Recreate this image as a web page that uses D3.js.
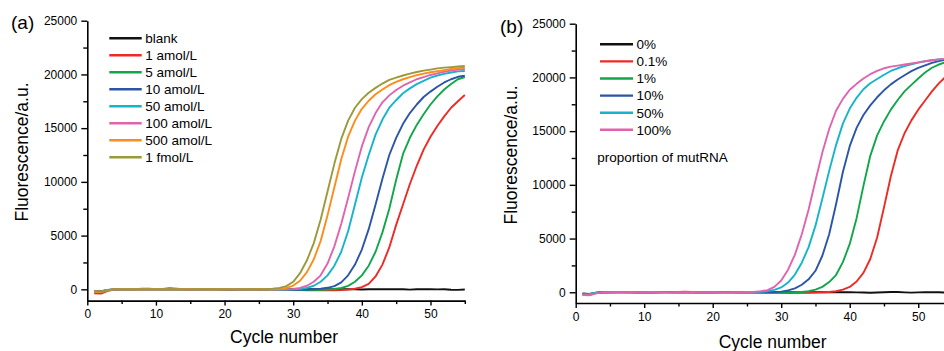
<!DOCTYPE html>
<html>
<head>
<meta charset="utf-8">
<script src="https://cdn.jsdelivr.net/npm/d3@7"></script>
<style>
  body { margin: 0; background: #fff; }
  svg { display: block; font-family: "Liberation Sans", Arial, sans-serif; }
</style>
</head>
<body>
<script>
// cycles 1..55
const cycles = [1,2,3,4,5,6,7,8,9,10,11,12,13,14,15,16,17,18,19,20,21,22,23,24,25,26,27,28,29,30,
  31,32,33,34,35,36,37,38,39,40,41,42,43,44,45,46,47,48,49,50,51,52,53,54,55];

// panel (a): target concentration
const namesA = ["blank", "1 amol/L", "5 amol/L", "10 amol/L", "50 amol/L", "100 amol/L", "500 amol/L", "1 fmol/L"];
const blankA = [-150,-180,-60,-10,0,10,0,20,10,0,-10,10,0,20,0,-10,10,0,10,0,-10,0,10,0,20,0,10,0,10,0,
  -10,0,10,0,20,10,0,10,0,-20,0,10,20,0,10,0,-30,0,10,0,-10,0,-40,-50,-20];
const amol1A = [-380,-400,-150,-30,0,20,10,50,60,20,40,110,60,10,0,20,-10,0,10,-30,-60,0,10,0,-20,0,10,-20,-30,-40,
  -60,-80,-90,-100,-90,-80,-60,-20,50,200,500,1200,2300,3900,6000,7900,9800,11500,13000,14200,15200,16100,16900,17500,18080];
const amol5A = [-250,-280,-100,-20,10,0,20,10,30,0,20,10,0,-10,10,0,20,0,-10,10,0,-20,0,10,0,-10,0,-10,-20,-40,
  -60,-70,-70,-50,-20,30,120,320,700,1300,2200,3500,5300,7500,10200,12600,14100,15300,16300,17200,17950,18600,19100,19550,19760];
const amol10A = [-200,-250,-80,0,10,20,0,10,0,20,10,0,-10,0,10,20,0,10,0,-10,0,10,0,20,0,-10,0,-10,-30,-40,
  -40,-20,10,50,140,300,650,1300,2300,3700,5600,7900,10300,12500,14100,15400,16400,17200,17900,18400,18850,19250,19550,19780,19880];
const amol50A = [-180,-220,-60,10,20,0,10,0,20,10,0,20,10,0,-10,0,10,0,20,0,10,0,-10,0,10,0,-10,-20,-30,-10,
  30,130,330,700,1300,2200,3500,5400,7900,10400,12500,14400,15800,16900,17600,18250,18700,19100,19400,19700,19900,20050,20180,20280,20320];
const amol100A = [-200,-230,-70,0,10,30,0,10,0,-10,0,20,0,10,0,-10,0,10,0,10,-10,0,10,0,-10,0,10,0,-10,30,
  130,330,700,1300,2400,4000,6100,8500,11000,13300,15100,16400,17400,18050,18550,18950,19250,19550,19750,19950,20100,20250,20350,20450,20500];
const amol500A = [-220,-260,-90,-10,0,10,20,0,10,30,0,-10,0,10,0,20,0,-20,0,10,0,-10,0,10,0,10,0,30,120,350,
  800,1600,2800,4500,6900,9500,12100,14200,15700,16800,17550,18150,18600,19000,19300,19550,19750,19930,20080,20200,20300,20400,20500,20590,20630];
const fmol1A = [-160,-200,-70,0,10,0,20,10,0,10,20,0,10,0,-10,0,10,20,0,10,0,-10,0,10,20,10,60,130,300,700,
  1500,2700,4300,6500,9100,11700,14000,15700,16900,17700,18300,18750,19150,19500,19700,19900,20080,20230,20350,20450,20560,20630,20680,20740,20780];
const colorsA = ["#111111", "#ee2a24", "#12a64b", "#2b55a6", "#16b4cc", "#e064ad", "#fb8c1e", "#9b9a3a"];

// panel (b): proportion of mutRNA
const namesB = ["0%", "0.1%", "1%", "10%", "50%", "100%"];
const pct0B = [-120,-150,-50,0,10,0,10,0,-10,0,10,0,10,20,0,10,0,-10,0,10,0,10,0,-10,0,10,0,0,-10,0,
  10,0,-10,0,10,0,-10,0,10,0,-10,-20,-40,-20,0,30,20,-10,-30,-10,0,10,0,-30,-40];
const pct01B = [-200,-240,-80,0,10,20,0,10,0,-10,0,20,10,0,30,50,20,0,10,0,-10,0,10,0,-10,0,-20,-30,-50,-60,
  -70,-60,-50,-40,-30,-10,20,100,250,500,1000,1800,3100,5100,7900,10800,13200,14800,16000,17000,17850,18700,19450,20050,20400];
const pct1B = [-180,-220,-60,10,0,10,20,0,10,0,-10,0,10,0,20,0,10,0,-10,0,10,0,0,10,0,-10,-10,-20,-30,-30,
  -20,0,30,100,250,500,950,1600,2800,4500,6900,9900,12700,14600,15900,17000,17900,18700,19300,19900,20450,20900,21200,21420,21500];
const pct10B = [-170,-200,-60,0,10,0,20,10,0,10,0,-10,0,10,0,20,0,10,0,-10,20,30,10,0,10,0,-10,0,20,60,
  170,370,700,1200,2000,3400,5400,8200,11200,13600,15300,16500,17400,18150,18800,19350,19800,20200,20580,20880,21120,21350,21520,21650,21700];
const pct50B = [-190,-150,-50,0,10,20,0,10,0,0,10,0,-10,0,10,0,20,0,10,0,-10,0,10,0,20,10,40,100,220,450,
  900,1650,2750,4200,6200,8700,11300,13700,15700,17100,18100,18900,19450,19850,20250,20600,20850,21050,21220,21380,21500,21600,21680,21720,21750];
const pct100B = [-250,-280,-100,-10,0,10,0,20,10,0,20,10,0,-10,0,10,0,10,0,10,0,-10,0,10,20,40,90,200,500,1100,
  2100,3500,5400,7700,10400,13000,15200,16900,18000,18850,19400,19900,20300,20600,20850,21000,21100,21200,21300,21400,21500,21600,21680,21720,21750];
const colorsB = ["#111111", "#ee2a24", "#12a64b", "#2b55a6", "#16b4cc", "#e064ad"];

// axis ticks
const xMajor = [0, 10, 20, 30, 40, 50];
const xMinor = [5, 15, 25, 35, 45, 55];
const yMajor = [0, 5000, 10000, 15000, 20000, 25000];
const yMinor = [2500, 7500, 12500, 17500, 22500];

const W = 944, H = 351;
const FONT = "\"Liberation Sans\", Arial, sans-serif";

const svg = d3.select("body").append("svg")
    .attr("width", W)
    .attr("height", H);

function DrawPanel(cfg) {
    const x = d3.scaleLinear().domain([0, 55]).range([cfg.left, cfg.right]);
    const y = d3.scaleLinear().domain([cfg.yMin, 25000]).range([cfg.bottom, cfg.top]);

    const g = svg.append("g");

    // curves, blank first so the others sit on top
    const line = d3.line()
        .x((d, i) => x(cycles[i]))
        .y(d => y(d));
    g.append("g")
        .attr("fill", "none")
        .attr("stroke-width", 1.9)
        .attr("stroke-linejoin", "round")
        .selectAll("path")
        .data(cfg.series)
        .join("path")
        .attr("stroke", (d, i) => cfg.colors[i])
        .attr("d", d => line(d));

    // x axis (major + minor)
    g.append("g")
        .attr("transform", `translate(0,${cfg.bottom})`)
        .call(d3.axisBottom(x).tickValues(xMajor).tickSize(5).tickPadding(4).tickSizeOuter(0).tickFormat(d3.format("d")));
    g.append("g")
        .attr("transform", `translate(0,${cfg.bottom})`)
        .call(d3.axisBottom(x).tickValues(xMinor).tickSize(3.5).tickSizeOuter(0).tickFormat(""))
        .select(".domain").remove();

    // y axis (major + minor)
    g.append("g")
        .attr("transform", `translate(${cfg.left},0)`)
        .call(d3.axisLeft(y).tickValues(yMajor).tickSize(6).tickPadding(4).tickSizeOuter(0).tickFormat(d3.format("d")));
    g.append("g")
        .attr("transform", `translate(${cfg.left},0)`)
        .call(d3.axisLeft(y).tickValues(yMinor).tickSize(4).tickSizeOuter(0).tickFormat(""))
        .select(".domain").remove();

    g.selectAll(".domain").attr("stroke", "#000").attr("stroke-width", 1.6);
    g.selectAll(".tick line").attr("stroke", "#000").attr("stroke-width", 1.4);
    g.selectAll(".tick text")
        .attr("fill", "#000")
        .style("font-family", FONT)
        .style("font-size", "12px");

    // axis titles
    g.append("text")
        .attr("x", cfg.xTitleX)
        .attr("y", cfg.xTitleY)
        .attr("text-anchor", "middle")
        .style("font-size", "17.5px")
        .text("Cycle number");
    g.append("text")
        .attr("transform", `translate(${cfg.yTitleX},${cfg.yTitleY}) rotate(-90)`)
        .attr("text-anchor", "middle")
        .style("font-size", "17.5px")
        .text("Fluorescence/a.u.");

    // panel letter
    g.append("text")
        .attr("x", cfg.letterX)
        .attr("y", cfg.letterY)
        .style("font-size", "19px")
        .text(cfg.letter);

    // legend
    const leg = g.append("g")
        .selectAll("g")
        .data(cfg.names)
        .join("g")
        .attr("transform", (d, i) => `translate(${cfg.legX},${cfg.legY + i * cfg.legStep})`);
    leg.append("line")
        .attr("x1", 0).attr("x2", cfg.legLen)
        .attr("stroke", (d, i) => cfg.colors[i])
        .attr("stroke-width", 2.4);
    leg.append("text")
        .attr("x", cfg.legLen + 3.5)
        .attr("dy", "0.36em")
        .style("font-size", "13.5px")
        .text(d => d);

    return g;
}

DrawPanel({
    left: 87.3, right: 464.8, top: 20.7, bottom: 300.6, yMin: -1050,
    series: [blankA, amol1A, amol5A, amol10A, amol50A, amol100A, amol500A, fmol1A],
    names: namesA, colors: colorsA,
    letter: "(a)", letterX: 11, letterY: 29,
    xTitleX: 284, xTitleY: 343,
    yTitleX: 28, yTitleY: 152,
    legX: 109.3, legY: 38.3, legStep: 17, legLen: 32.4
});

const gb = DrawPanel({
    left: 575.7, right: 952.5, top: 23.7, bottom: 303, yMin: -1000,
    series: [pct0B, pct01B, pct1B, pct10B, pct50B, pct100B],
    names: namesB, colors: colorsB,
    letter: "(b)", letterX: 500, letterY: 33,
    xTitleX: 772.7, xTitleY: 347.5,
    yTitleX: 517, yTitleY: 155,
    legX: 600, legY: 44.3, legStep: 17.1, legLen: 33
});

gb.append("text")
    .attr("x", 597.3)
    .attr("y", 157.3)
    .attr("dy", "0.36em")
    .style("font-size", "13.5px")
    .text("proportion of mutRNA");
</script>
</body>
</html>
